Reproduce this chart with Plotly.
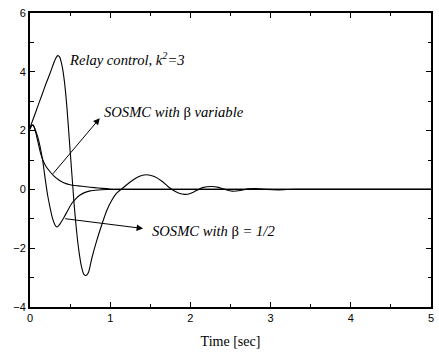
import plotly.graph_objects as go

# Relay control, k^2 = 3
t_relay = [0, 0.05, 0.1, 0.15, 0.2, 0.25, 0.29, 0.32, 0.345, 0.37, 0.40, 0.43, 0.46, 0.49, 0.52,
           0.55, 0.58, 0.61, 0.64, 0.67, 0.70, 0.73, 0.77, 0.82, 0.90, 0.96, 1.02, 1.08, 1.15,
           1.25, 1.35, 1.45, 1.55, 1.65, 1.72, 1.78, 1.85, 1.93, 2.0, 2.08, 2.15, 2.27, 2.35,
           2.43, 2.52, 2.62, 2.72, 2.82, 2.95, 3.1, 3.3, 3.6, 5.0]
y_relay = [2.1, 2.47, 2.85, 3.22, 3.6, 3.95, 4.25, 4.45, 4.55, 4.5, 4.2, 3.65, 2.8, 1.7, 0.6,
           -0.5, -1.4, -2.1, -2.6, -2.88, -2.93, -2.82, -2.35, -1.85, -1.16, -0.7, -0.37, -0.13, 0.03,
           0.25, 0.43, 0.5, 0.44, 0.27, 0.1, -0.02, -0.12, -0.17, -0.14, -0.03, 0.06, 0.1, 0.07,
           0.0, -0.06, -0.04, 0.02, 0.03, 0.0, -0.015, 0.005, 0.0, 0.0]

# SOSMC with beta variable
t_var = [0, 0.02, 0.04, 0.07, 0.1, 0.13, 0.16, 0.2, 0.25, 0.3, 0.36, 0.42, 0.5, 0.6, 0.7,
         0.8, 0.9, 1.0, 1.1, 1.3, 5.0]
y_var = [2.05, 2.17, 2.18, 1.95, 1.6, 1.25, 1.0, 0.78, 0.6, 0.45, 0.32, 0.23, 0.16, 0.12, 0.09,
         0.06, 0.035, 0.015, 0.005, 0.0, 0.0]

# SOSMC with beta = 1/2
t_half = [0, 0.02, 0.04, 0.07, 0.1, 0.13, 0.16, 0.19, 0.22, 0.25, 0.28, 0.31, 0.335, 0.36,
          0.42, 0.47, 0.52, 0.57, 0.62, 0.68, 0.75, 0.85, 0.95, 1.1, 5.0]
y_half = [2.05, 2.17, 2.18, 2.0, 1.75, 1.4, 0.95, 0.35, -0.2, -0.62, -0.98, -1.2, -1.28, -1.22,
          -0.97, -0.72, -0.48, -0.32, -0.2, -0.11, -0.05, -0.02, -0.005, 0.0, 0.0]

x_ticks = [0, 1, 2, 3, 4, 5]
y_ticks = [-4, -2, 0, 2, 4, 6]

line = dict(color="black", width=1.1, shape="spline", smoothing=0.6)

fig = go.Figure()
for t, y in [(t_relay, y_relay), (t_var, y_var), (t_half, y_half)]:
    fig.add_trace(go.Scatter(x=t, y=y, mode="lines", line=line, showlegend=False, hoverinfo="skip"))

tickfont = dict(family="Liberation Sans, Arial", size=11, color="black")
fig.update_layout(
    width=439, height=354,
    margin=dict(l=30, r=8, t=13, b=47),
    paper_bgcolor="white", plot_bgcolor="white",
    xaxis=dict(range=[0, 5], tickvals=x_ticks, ticks="inside", ticklen=5, tickwidth=1.3,
               tickcolor="black", showline=True, linewidth=1.8, linecolor="black", mirror="ticks",
               showgrid=False, zeroline=False, tickfont=tickfont, automargin=False,
               minor=dict(ticks="inside", ticklen=3.5, tickwidth=1.3, tickcolor="black", dtick=0.5, showgrid=False),
               title=dict(text="Time [sec]", font=dict(family="Liberation Serif, Times New Roman", size=14, color="black"), standoff=13)),
    yaxis=dict(range=[-4, 6], tickvals=y_ticks, ticks="inside", ticklen=5, tickwidth=1.3,
               tickcolor="black", showline=True, linewidth=2, linecolor="black", mirror="ticks",
               showgrid=False, zeroline=False, tickfont=tickfont, automargin=False,
               minor=dict(ticks="inside", ticklen=3.5, tickwidth=1.3, tickcolor="black", dtick=1, showgrid=False)),
)

afont = dict(family="Liberation Serif, Times New Roman, serif", size=14.6, color="black")
fig.add_annotation(x=0.46, y=4.42, xref="x", yref="y", xanchor="left", yanchor="middle",
                   text="<i>Relay control, k<sup>2</sup>=3</i>", showarrow=False, font=afont)
fig.add_annotation(x=0.90, y=2.63, xref="x", yref="y", xanchor="left", yanchor="middle",
                   text="<i>SOSMC with</i> β <i>variable</i>", showarrow=False, font=afont)
fig.add_annotation(x=1.49, y=-1.43, xref="x", yref="y", xanchor="left", yanchor="middle",
                   text="<i>SOSMC with</i> β <i>= 1/2</i>", showarrow=False, font=afont)
# arrows from curves toward labels
fig.add_annotation(x=0.87, y=2.42, ax=0.27, ay=0.48, xref="x", yref="y", axref="x", ayref="y",
                   text="", showarrow=True, arrowhead=2, arrowsize=1.3, arrowwidth=1, arrowcolor="black")
fig.add_annotation(x=1.41, y=-1.33, ax=0.42, ay=-0.99, xref="x", yref="y", axref="x", ayref="y",
                   text="", showarrow=True, arrowhead=2, arrowsize=1.3, arrowwidth=1, arrowcolor="black")

fig.write_html("out.html", config={"displayModeBar": False},
               post_script="document.body.style.margin='0';document.body.style.overflow='hidden';")
